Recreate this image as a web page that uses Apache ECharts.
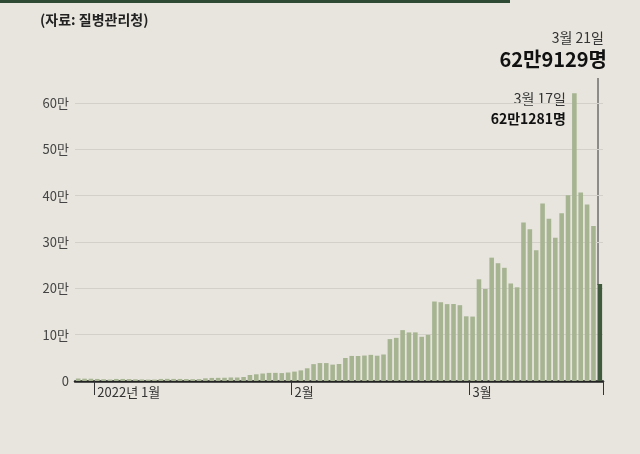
<!DOCTYPE html><html><head><meta charset="utf-8"><script src="https://cdn.jsdelivr.net/npm/echarts@6/dist/echarts.min.js"></script>
<style>body{margin:0;background:#e7e5dd}#c{width:640px;height:454px}</style></head><body><div id="c"></div><script>
const dates=[];(function(){const d=new Date(2021,11,29);for(let i=0;i<83;i++){dates.push((d.getMonth()+1)+'/'+d.getDate());d.setDate(d.getDate()+1);}})();
const values=[0.54,0.50,0.49,0.44,0.38,0.31,0.44,0.44,0.41,0.37,0.34,0.30,0.31,0.44,0.46,0.45,0.44,0.42,0.39,0.41,0.58,0.66,0.68,0.70,0.76,0.75,0.86,1.30,1.45,1.61,1.75,1.75,1.71,1.83,
2.03,2.29,2.74,3.64,3.87,3.87,3.53,3.67,4.96,5.41,5.39,5.49,5.64,5.46,5.72,9.04,9.31,10.98,10.48,10.49,9.54,9.96,17.15,17.00,16.59,16.62,16.36,13.96,
13.90,21.95,19.86,26.62,25.42,24.43,21.05,20.22,34.22,32.74,28.24,38.31,35.03,30.92,36.22,40.07,62.13,40.70,38.12,33.48,20.93];
const yTicks=['0','10만','20만','30만','40만','50만','60만'];
const monthLabels={3:'2022년 1월',34:'2월',62:'3월'};
const ch=echarts.init(document.getElementById('c'));
ch.setOption({backgroundColor:'#e7e5dd',animation:false,
grid:{left:75,right:37,top:103,bottom:73},
xAxis:{type:'category',data:dates,boundaryGap:true,
axisLine:{lineStyle:{color:'#222',width:2.5}},
axisTick:{show:true,length:14,inside:false,interval:(i)=>i in monthLabels,lineStyle:{color:'#333',width:1}},
axisLabel:{interval:(i)=>i in monthLabels,formatter:(v,i)=>monthLabels[i]||'',align:'left',margin:5,color:'#333',fontSize:13,fontFamily:'Noto Sans CJK KR'}},
yAxis:{type:'value',min:0,max:60,interval:10,
axisLabel:{formatter:(v)=>yTicks[v/10],color:'#444',fontSize:13,margin:6,fontFamily:'Noto Sans CJK KR'},
splitLine:{lineStyle:{color:'#d2d0c8',width:1}},axisLine:{show:false},axisTick:{show:false}},
series:[{type:'bar',clip:false,barCategoryGap:'28%',
data:values.map((v,i)=>i===values.length-1?{value:v,itemStyle:{color:'#3f5a3c'}}:v),
itemStyle:{color:'#a6b491'}}],
graphic:[
{type:'rect',shape:{x:0,y:0,width:510,height:3},style:{fill:'#2f4a34'}},
{type:'text',left:40,top:13,style:{text:'(자료: 질병관리청)',fill:'#222',font:'bold 14px "Noto Sans CJK KR"'}},
{type:'text',right:36,top:31,style:{text:'3월 21일',fill:'#333',font:'14px "Noto Sans CJK KR"'}},
{type:'text',right:33,top:49,style:{text:'62만9129명',fill:'#111',font:'bold 20px "Noto Sans CJK KR"',letterSpacing:-1}},
{type:'line',shape:{x1:598,y1:78,x2:598,y2:285},style:{stroke:'#333',lineWidth:1}},
{type:'text',right:74,top:92,style:{text:'3월 17일',fill:'#333',font:'14px "Noto Sans CJK KR"'}},
{type:'text',right:74,top:112,style:{text:'62만1281명',fill:'#111',font:'bold 14px "Noto Sans CJK KR"',letterSpacing:-1}}
]});
</script></body></html>
